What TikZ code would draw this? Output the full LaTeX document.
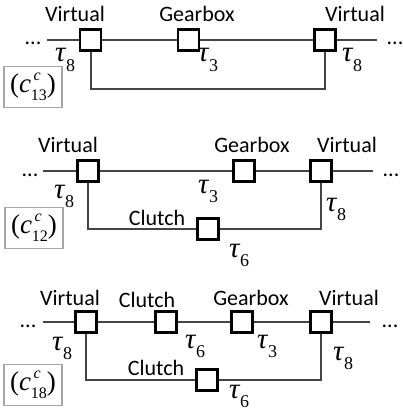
\documentclass[tikz,border=0pt]{standalone}
\usepackage{fontspec}
\setmainfont{Carlito}
\newfontfamily\tms{Liberation Serif}
\definecolor{wiregray}{HTML}{444444}
\definecolor{framegray}{HTML}{A6A6A6}
\newcommand\lblfont{\fontsize{22}{22}\selectfont}
\newcommand\taufont{\fontsize{29}{29}\selectfont\tms}
\newcommand\cfont{\fontsize{27}{27}\selectfont\tms}
\newcommand\tausub[1]{{\itshape τ}\kern0.5pt\raisebox{-0.34em}{\fontsize{18}{18}\selectfont #1}}
\newcommand\cname[1]{({\itshape c}\rlap{\raisebox{0.42em}{\fontsize{16}{16}\selectfont\itshape\,c}}\raisebox{-0.32em}{\fontsize{16}{16}\selectfont #1})}
\tikzset{
  blk/.style={draw=black, line width=2.8pt, fill=white, minimum size=21pt, inner sep=0pt},
  wire/.style={draw=wiregray, line width=2pt},
  lbl/.style={font=\lblfont, anchor=base, inner sep=0pt},
  dots/.style={font=\lblfont, anchor=base, inner sep=0pt},
  tau/.style={font=\taufont, anchor=base west, inner sep=0pt},
  cbox/.style={draw=framegray, line width=1.2pt, font=\cfont, minimum width=58pt, minimum height=41pt, inner sep=1pt}
}
\begin{document}
\begin{tikzpicture}[x=1pt,y=-1pt]
\useasboundingbox (0,0) rectangle (403,412);
% ---------- Panel 1 ----------
\node[blk] (a1) at (90.5,40) {};
\node[blk] (g1) at (188.5,40) {};
\node[blk] (b1) at (325,40) {};
\coordinate (l1) at (47,40);
\coordinate (r1) at (377,40);
\coordinate (m1) at (92,89);
\node[dots] (dl1) at (33,45) {...};
\node[dots] (dr1) at (395,45) {...};
\node[lbl] (v1l) at (75,22) {Virtual};
\node[lbl] (gb1) at (197,22) {Gearbox};
\node[lbl] (v1r) at (355,22) {Virtual};
\node[tau] (t1a) at (55,62) {\tausub{8}};
\node[tau] (t1g) at (198,62) {\tausub{3}};
\node[tau] (t1b) at (342,62) {\tausub{8}};
\node[cbox] (c1) at (33,87) {\cname{13}};
\draw[wire] (l1) -- (a1) -- (g1) -- (b1) -- (r1);
\draw[wire] (a1.south) -- (a1.south |- m1) -| (b1.south);
% ---------- Panel 2 ----------
\node[blk] (a2) at (88,171) {};
\node[blk] (g2) at (244,171) {};
\node[blk] (b2) at (321,171) {};
\node[blk] (k2) at (208,229) {};
\coordinate (l2) at (43,171);
\coordinate (r2) at (373,171);
\node[dots] (dl2) at (30,176) {...};
\node[dots] (dr2) at (391,176) {...};
\node[lbl] (v2l) at (68,152) {Virtual};
\node[lbl] (gb2) at (252,152) {Gearbox};
\node[lbl] (v2r) at (347,152) {Virtual};
\node[lbl] (cl2) at (157,225) {Clutch};
\node[tau] (t2a) at (54,198) {\tausub{8}};
\node[tau] (t2g) at (198,193) {\tausub{3}};
\node[tau] (t2b) at (326,211) {\tausub{8}};
\node[tau] (t2k) at (229,257) {\tausub{6}};
\node[cbox] (c2) at (34,228) {\cname{12}};
\draw[wire] (l2) -- (a2) -- (g2) -- (b2) -- (r2);
\draw[wire] (a2.south) |- (k2.west);
\draw[wire] (k2.east) -| (b2.south);
% ---------- Panel 3 ----------
\node[blk] (a3) at (86,322) {};
\node[blk] (k3) at (166,322) {};
\node[blk] (g3) at (242,322) {};
\node[blk] (b3) at (321,322) {};
\node[blk] (k4) at (207,380) {};
\coordinate (l3) at (43,322);
\coordinate (r3) at (370,322);
\node[dots] (dl3) at (28,327) {...};
\node[dots] (dr3) at (390,327) {...};
\node[lbl] (v3l) at (70,305) {Virtual};
\node[lbl] (cl3) at (147,307) {Clutch};
\node[lbl] (gb3) at (251,305) {Gearbox};
\node[lbl] (v3r) at (349,305) {Virtual};
\node[lbl] (cl4) at (156,375) {Clutch};
\node[tau] (t3a) at (52,350) {\tausub{8}};
\node[tau] (t3k) at (185,348) {\tausub{6}};
\node[tau] (t3g) at (257,348) {\tausub{3}};
\node[tau] (t3b) at (333,360) {\tausub{8}};
\node[tau] (t4k) at (229,398) {\tausub{6}};
\node[cbox] (c3) at (33,385) {\cname{18}};
\draw[wire] (l3) -- (a3) -- (k3) -- (g3) -- (b3) -- (r3);
\draw[wire] (a3.south) |- (k4.west);
\draw[wire] (k4.east) -| (b3.south);
\end{tikzpicture}
\end{document}
